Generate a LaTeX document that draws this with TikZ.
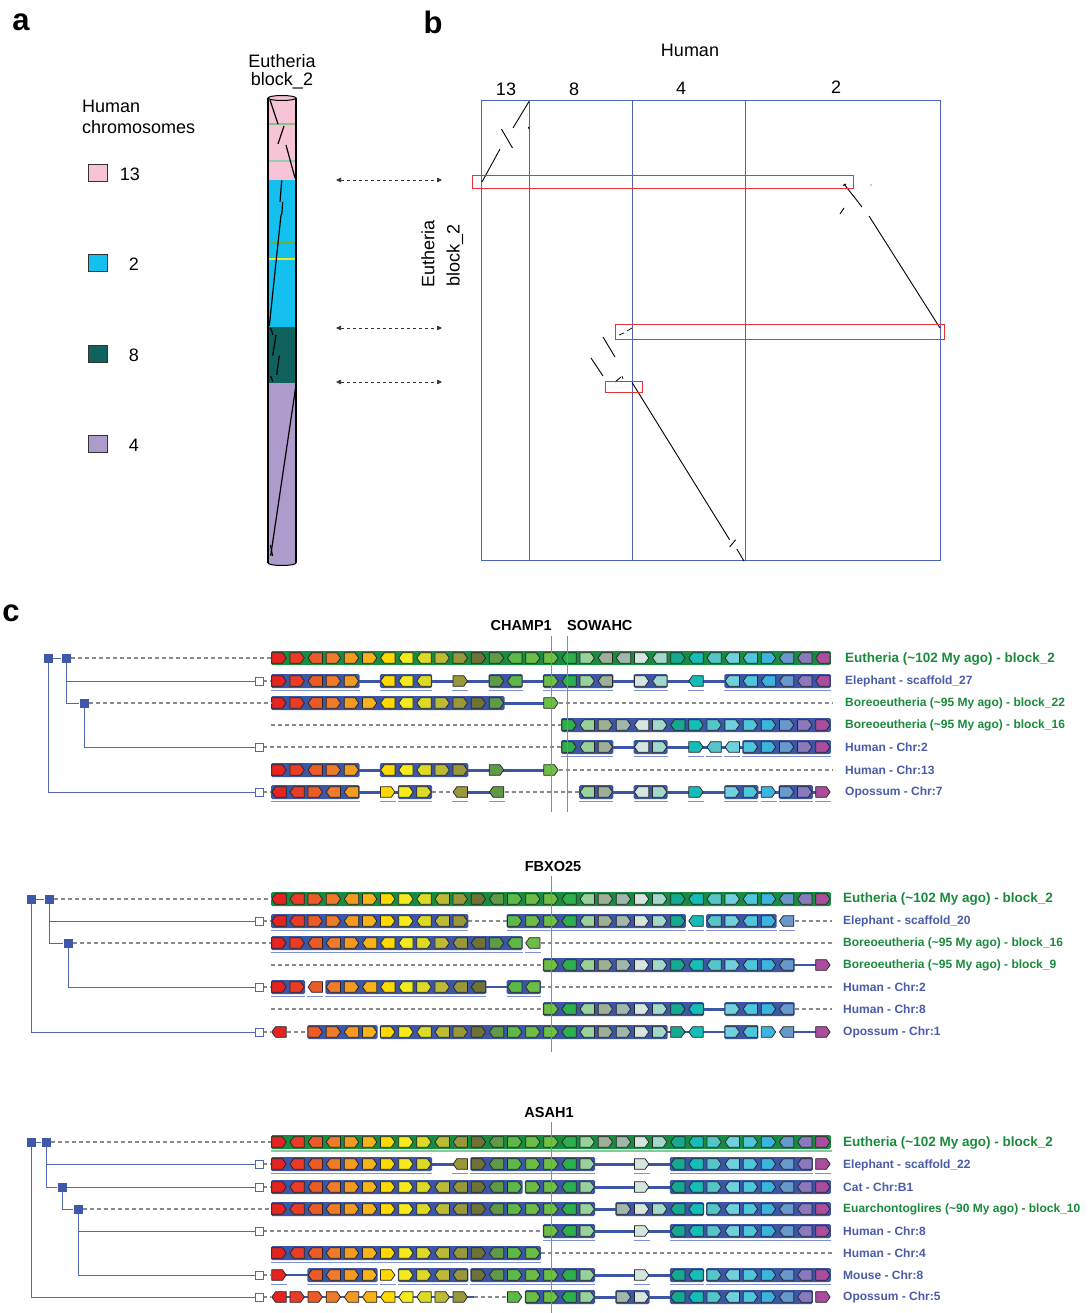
\documentclass[tikz,border=0pt]{standalone}
\usepackage{fontspec}
\setmainfont{Liberation Sans}
\usetikzlibrary{arrows.meta}
\pgfdeclarelayer{bottomlayer}
\pgfdeclarelayer{linelayer}
\pgfdeclarelayer{blocklayer}
\pgfsetlayers{bottomlayer,linelayer,blocklayer,main}

\definecolor{gc0}{HTML}{E52421}
\definecolor{gc1}{HTML}{E83C27}
\definecolor{gc2}{HTML}{EA5B27}
\definecolor{gc3}{HTML}{EE7A2C}
\definecolor{gc4}{HTML}{F39A21}
\definecolor{gc5}{HTML}{F8B31B}
\definecolor{gc6}{HTML}{FDD900}
\definecolor{gc7}{HTML}{F5EA1E}
\definecolor{gc8}{HTML}{DDDA26}
\definecolor{gc9}{HTML}{BDBB36}
\definecolor{gc10}{HTML}{98983A}
\definecolor{gc11}{HTML}{6F7237}
\definecolor{gc12}{HTML}{5F9A46}
\definecolor{gc13}{HTML}{5DB947}
\definecolor{gc14}{HTML}{6BBD45}
\definecolor{gc15}{HTML}{6DBF45}
\definecolor{gc16}{HTML}{2EAF4D}
\definecolor{gc17}{HTML}{98D19C}
\definecolor{gc18}{HTML}{9DAF97}
\definecolor{gc19}{HTML}{A0B7AE}
\definecolor{gc20}{HTML}{D5E6E0}
\definecolor{gc21}{HTML}{A2D8CC}
\definecolor{gc22}{HTML}{17A891}
\definecolor{gc23}{HTML}{14BDB8}
\definecolor{gc24}{HTML}{55C5CA}
\definecolor{gc25}{HTML}{70D0DE}
\definecolor{gc26}{HTML}{4EC7DD}
\definecolor{gc27}{HTML}{3BB5E0}
\definecolor{gc28}{HTML}{6899CD}
\definecolor{gc29}{HTML}{8B79BD}
\definecolor{gc30}{HTML}{AB4D9E}
\definecolor{bgblue}{HTML}{3C55A5}
\definecolor{bggreen}{HTML}{178C40}
\definecolor{ulblue}{HTML}{7D90D2}
\definecolor{ulgreen}{HTML}{86C8A0}
\definecolor{treeblue}{HTML}{3F58A8}
\definecolor{tlineblue}{HTML}{5068B4}
\definecolor{labgreen}{HTML}{1A8B3C}
\definecolor{labblue}{HTML}{4A5CAA}
\definecolor{plotblue}{HTML}{4D64B6}
\definecolor{plotred}{HTML}{E8323A}
\definecolor{pinkc}{HTML}{F6C4D4}
\definecolor{cyanc}{HTML}{14C0EF}
\definecolor{tealc}{HTML}{10625F}
\definecolor{purplec}{HTML}{AD9BCB}
\definecolor{dashgray}{HTML}{8A8A8A}
\definecolor{bandA}{HTML}{8DBE8E}
\definecolor{bandB}{HTML}{8FCFB0}
\definecolor{bandC}{HTML}{6DAF3A}
\definecolor{bandD}{HTML}{F2EA1E}

\newcount\mygcol \newcount\myblen \newcount\mybstart
\def\mytypeb{b}\def\mytypeg{g}

\def\myendblock{%
  \ifnum\myblen>0
    \pgfmathsetmacro\mybxa{279+18.13*\the\mybstart-8}%
    \pgfmathsetmacro\mybxb{279+18.13*(\the\mybstart+\the\myblen-1)+8}%
    \begin{pgfonlayer}{blocklayer}%
    \ifnum\myblen>1
      \ifx\myrowtype\mytypeg
        \fill[bggreen,rounded corners=1.5pt] (\mybxa,\mygy-7) rectangle (\mybxb,\mygy+7);
      \else
        \fill[bgblue,rounded corners=1.5pt] (\mybxa,\mygy-7) rectangle (\mybxb,\mygy+7);
      \fi
    \fi
    \ifx\myrowtype\mytypeb
      \draw[ulblue,line width=0.8pt] (\mybxa,\mygy+9.3) -- (\mybxb,\mygy+9.3);
    \fi
    \end{pgfonlayer}%
  \fi
  \myblen=0 }

\def\mydrawgene#1{%
  \pgfmathsetmacro\mygxc{279+18.13*\the\mygcol}%
  \edef\mygcname{gc\the\mygcol}%
  \ifx#1>%
    \filldraw[gene,fill=\mygcname] (\mygxc-7.2,\mygy-5.3) -- (\mygxc+3.4,\mygy-5.3) -- (\mygxc+7.2,\mygy) -- (\mygxc+3.4,\mygy+5.3) -- (\mygxc-7.2,\mygy+5.3) -- cycle;
  \else
    \filldraw[gene,fill=\mygcname] (\mygxc+7.2,\mygy-5.3) -- (\mygxc-3.4,\mygy-5.3) -- (\mygxc-7.2,\mygy) -- (\mygxc-3.4,\mygy+5.3) -- (\mygxc+7.2,\mygy+5.3) -- cycle;
  \fi}

\def\myparse#1{%
  \ifx#1\relax\myendblock\else
    \ifx#1.\myendblock\advance\mygcol by 1 \else
      \ifx#1|\myendblock\else
        \ifnum\myblen=0 \mybstart=\mygcol\fi
        \advance\myblen by 1
        \mydrawgene{#1}%
        \advance\mygcol by 1
      \fi
    \fi
    \expandafter\myparse
  \fi}

\newcommand\generow[3]{\def\mygy{#1}\def\myrowtype{#2}\mygcol=0 \myblen=0 \myparse#3\relax}
\newcommand\thk[3]{\begin{pgfonlayer}{linelayer}\draw[thkline] ({#2},#1) -- ({#3},#1);\end{pgfonlayer}}
\newcommand\thn[3]{\begin{pgfonlayer}{linelayer}\draw[thnline] ({#2},#1) -- ({#3},#1);\end{pgfonlayer}}
\newcommand\dsh[3]{\begin{pgfonlayer}{linelayer}\draw[gdash] ({#2},#1) -- ({#3},#1);\end{pgfonlayer}}

\begin{document}
\begin{tikzpicture}[x=1pt,y=-1pt,
  declare function={cx(\x)=279+18.13*\x; colL(\x)=271+18.13*\x; colR(\x)=287+18.13*\x;},
  gene/.style={draw=black!85,line width=0.75pt,line join=round},
  thkline/.style={draw=bgblue,line width=3pt},
  thnline/.style={draw=bgblue,line width=1.1pt},
  gdash/.style={draw=dashgray,line width=1.2pt,dash pattern=on 4pt off 3pt},
  tline/.style={draw=tlineblue,line width=0.9pt},
  tsq/.style={fill=treeblue,minimum size=9pt,inner sep=0pt,draw=none},
  osq/.style={fill=white,draw=tlineblue,line width=0.8pt,minimum size=8pt,inner sep=0pt},
  lab/.style={anchor=west,inner sep=0pt,font=\fontsize{12}{14}\selectfont\bfseries},
  labE/.style={anchor=west,inner sep=0pt,text=labgreen,font=\fontsize{13.5}{16}\selectfont\bfseries},
  labG/.style={lab,text=labgreen},
  labB/.style={lab,text=labblue},
  big/.style={inner sep=0pt,font=\fontsize{18}{21}\selectfont},
  panel/.style={inner sep=0pt,font=\fontsize{31}{34}\selectfont\bfseries},
  gtitle/.style={inner sep=0pt,font=\fontsize{14.5}{17}\selectfont\bfseries},
  legsq/.style={draw=black!80,line width=0.8pt,minimum width=19pt,minimum height=17pt,inner sep=0pt},
  darrow/.style={draw=black!80,line width=0.7pt,dash pattern=on 3pt off 3pt,{Triangle[length=5pt,width=4.5pt]}-{Triangle[length=5pt,width=4.5pt]}},
  dot/.style={draw=black,line width=0.9pt},
  vline/.style={draw=black!45,line width=0.9pt}
]
\begin{pgfonlayer}{bottomlayer}
\fill[white] (0,0) rectangle (1088,1313);
\end{pgfonlayer}
\useasboundingbox (0,0) rectangle (1088,1313);

% ================= panel a =================
\node[panel] (pa) at (21,22) {a};
\node[big,anchor=west] (hc1) at (82,106) {Human};
\node[big,anchor=west] (hc2) at (82,127) {chromosomes};
\node[legsq,fill=pinkc] (lg13) at (98,173) {};
\node[legsq,fill=cyanc] (lg2) at (98,263) {};
\node[legsq,fill=tealc] (lg8) at (98,354) {};
\node[legsq,fill=purplec] (lg4) at (98,444) {};
\node[big] (lt13) at (130,174) {13};
\node[big] (lt2) at (134,264) {2};
\node[big] (lt8) at (134,355) {8};
\node[big] (lt4) at (134,445) {4};
\node[big] (eb1) at (282,61) {Eutheria};
\node[big] (eb2) at (282,81) {block\_2};
% cylinder
\fill[pinkc] (268,98) rectangle (296,180);
\fill[cyanc] (268,180) rectangle (296,327);
\fill[tealc] (268,327) rectangle (296,383);
\fill[purplec] (268,383) rectangle (296,563);
\fill[purplec] (282,563) ellipse [x radius=14, y radius=2.5];
\draw[bandA,line width=1.4pt] (269,124) -- (295,124);
\draw[bandB,line width=1.4pt] (269,161) -- (295,161);
\draw[bandC,line width=1.4pt] (269,243) -- (295,243);
\draw[bandD,line width=1.4pt] (269,259) -- (295,259);
\begin{scope}[line width=1.2pt]
\draw (270,100) -- (278,124);
\draw (284,126) -- (278,144);
\draw (286,145) -- (295,178);
\draw (281.7,180.4) -- (280,202);
\draw (282.7,202) -- (281.7,214.8);
\draw (281,214.8) -- (269.3,326);
\draw (270.7,328) -- (273,335);
\draw (276,335) -- (272.7,355.6);
\draw (279.3,355.6) -- (276.7,374.8);
\draw (270.7,376) -- (272.7,381.5);
\draw (296,385) -- (270.7,555.6);
\draw (270.5,545) -- (272.5,556);
\end{scope}
\draw[black,line width=1.2pt] (268,98) -- (268,563);
\draw[black,line width=1.2pt] (296,98) -- (296,563);
\draw[black,line width=1.0pt,fill=pinkc] (282,98) ellipse [x radius=14, y radius=2.5];
\draw[black,line width=1.0pt] (268,563) arc [start angle=180, end angle=0, x radius=14, y radius=2.5];
% dashed double arrows
\coordinate (arL1) at (336,180); \coordinate (arR1) at (442,180);
\coordinate (arL2) at (336,328); \coordinate (arR2) at (442,328);
\coordinate (arL3) at (336,382); \coordinate (arR3) at (442,382);
\draw[darrow] (arL1) -- (arR1);
\draw[darrow] (arL2) -- (arR2);
\draw[darrow] (arL3) -- (arR3);

% ================= panel b =================
\node[panel] (pb) at (433,22) {b};
\node[big] (hum) at (690,50) {Human};
\node[big] (n13) at (506,89) {13};
\node[big] (n8) at (574,89) {8};
\node[big] (n4) at (681,88) {4};
\node[big] (n2) at (836,87) {2};
\node[big,rotate=90] (ebr1) at (428,254) {Eutheria};
\node[big,rotate=90] (ebr2) at (455,255) {block\_2};
\draw[plotblue,line width=1pt] (481,101) rectangle (940,560);
\draw[plotblue,line width=1pt] (529,101) -- (529,560);
\draw[plotblue,line width=1pt] (632,101) -- (632,560);
\draw[plotblue,line width=1pt] (745,101) -- (745,560);
\begin{scope}[dot]
\draw (482,182) -- (500,149);
\draw (501.4,129) -- (512.5,148);
\draw (513,128) -- (529,101.5);
\draw (528.5,127) -- (529,129);
\draw (844,184) -- (862,207);
\draw (869,216) -- (940,328);
\draw (844,208) -- (840,214);
\draw (843,185.5) -- (846,184);
\draw (603,337) -- (615,357);
\draw (591,358) -- (603,376);
\draw[line width=0.7pt] (619,335) -- (624,333);
\draw[line width=0.7pt] (627,331) -- (632,328);
\draw (615,382) -- (621,377);
\draw[line width=0.7pt] (622,376) -- (623,379);
\draw (632,382.4) -- (729.6,539.7);
\draw (729.6,547) -- (735.7,539.7);
\draw (736.8,549) -- (744,561);
\end{scope}
\fill[black!40] (871,185) circle (0.8);
\draw[plotred,line width=1pt] (472.5,175.5) rectangle (853,188.6);
\draw[plotred,line width=1pt] (615,324) rectangle (944.6,339.7);
\draw[plotred,line width=1pt] (605,381) rectangle (642.5,392.8);

% ================= panel c =================
\node[panel] (pc) at (11,613) {c};

% ---------- section 1 ----------
\node[gtitle,anchor=east] (champ) at (552,626) {CHAMP1};
\node[gtitle,anchor=west] (sowa) at (567,626) {SOWAHC};
\generow{658}{g}{>><>>><<<>>>><>><><<><><<<<><<<}
\generow{681}{b}{>><>>.<<<.>.><.><><.><.<.<<<<<<}
\thk{681}{cx(0)}{cx(30)}
\dsh{681}{263}{271}
\generow{703}{n}{>><>>><<<>>>>..>...............}
\thk{703}{cx(12)}{cx(15)}
\dsh{703}{colR(15)}{832}
\generow{725}{n}{................><>><><>>>>>>>>}
\dsh{725}{271}{colL(16)}
\generow{747}{b}{................><>.<>.>|<|<|>>>>>}
\thk{747}{cx(16)}{cx(30)}
\dsh{747}{263}{colL(16)}
\generow{770}{n}{>><>>.<<<>>.>..>...............}
\thk{770}{cx(0)}{cx(15)}
\dsh{770}{colR(15)}{832}
\generow{792}{b}{<<><<.>|>>.<.<....<>.<>.>.>>|>|>>|>}
\dsh{792}{263}{271}
\thk{792}{cx(4)}{cx(7)}
\dsh{792}{colR(8)}{colL(10)}
\thk{792}{cx(10)}{cx(12)}
\dsh{792}{colR(12)}{colL(17)}
\thk{792}{cx(17)}{cx(30)}
\node[tsq] (t1r) at (48,658) {};
\node[tsq] (t1a) at (66,658) {};
\node[tsq] (t1b) at (84,703) {};
\node[osq] (t1o2) at (259,681) {};
\node[osq] (t1o5) at (259,747) {};
\node[osq] (t1o7) at (259,792) {};
\coordinate (r1s1) at (271,658);
\coordinate (r1s3) at (271,703);
\draw[tline] (t1r) -- (t1a);
\draw[tline] (t1a) |- (t1o2);
\draw[tline] (t1a) |- (t1b);
\draw[tline] (t1b) |- (t1o5);
\draw[tline] (t1r) |- (t1o7);
\draw[gdash] (t1a) -- (r1s1);
\draw[gdash] (t1b) -- (r1s3);
\draw[vline] (551,636) -- (551,812);
\draw[vline] (567.5,636) -- (567.5,812);
\node[labE] (l11) at (845,659) {Eutheria (\textasciitilde102 My ago) - block\_2};
\node[labB] (l12) at (845,681) {Elephant - scaffold\_27};
\node[labG] (l13) at (845,703) {Boreoeutheria (\textasciitilde95 My ago) - block\_22};
\node[labG] (l14) at (845,725) {Boreoeutheria (\textasciitilde95 My ago) - block\_16};
\node[labB] (l15) at (845,747) {Human - Chr:2};
\node[labB] (l16) at (845,770) {Human - Chr:13};
\node[labB] (l17) at (845,792) {Opossum - Chr:7};

% ---------- section 2 ----------
\node[gtitle] (fbx) at (553,866) {FBXO25};
\generow{899}{g}{<<>><>>><<>><>>><<>>>>><<><><<>}
\generow{921}{b}{<<>><>>><<>..>>><<>>>>>|<|<><>|<..}
\dsh{921}{263}{271}
\dsh{921}{colR(10)}{colL(13)}
\dsh{921}{colR(28)}{832}
\generow{943}{b}{>><<><<<>><<><|<................}
\dsh{943}{colR(14)}{832}
\generow{965}{n}{...............><<>>>>><<><><.>}
\dsh{965}{271}{colL(15)}
\thn{965}{cx(28)}{cx(30)}
\generow{987}{b}{>>|<|<><<<>><<.<<................}
\dsh{987}{263}{271}
\thn{987}{cx(11)}{cx(13)}
\dsh{987}{colR(14)}{832}
\generow{1009}{n}{...............><<>>>>><.><><..}
\dsh{1009}{271}{colL(15)}
\thk{1009}{cx(23)}{cx(25)}
\dsh{1009}{colR(28)}{832}
\generow{1032}{n}{<.>><>|>><<>><>>><<>>>>|>|<.><|>|<.>}
\dsh{1032}{263}{271}
\dsh{1032}{colR(0)}{colL(2)}
\thn{1032}{cx(21)}{cx(25)}
\thn{1032}{cx(28)}{cx(30)}
\node[tsq] (t2r) at (31,899) {};
\node[tsq] (t2a) at (49,899) {};
\node[tsq] (t2b) at (68,943) {};
\node[osq] (t2o2) at (259,921) {};
\node[osq] (t2o5) at (259,987) {};
\node[osq] (t2o7) at (259,1032) {};
\coordinate (r2s1) at (271,899);
\coordinate (r2s3) at (271,943);
\draw[tline] (t2r) -- (t2a);
\draw[tline] (t2a) |- (t2o2);
\draw[tline] (t2a) |- (t2b);
\draw[tline] (t2b) |- (t2o5);
\draw[tline] (t2r) |- (t2o7);
\draw[gdash] (t2a) -- (r2s1);
\draw[gdash] (t2b) -- (r2s3);
\draw[vline] (551,876) -- (551,1052);
\node[labE] (l21) at (843,899) {Eutheria (\textasciitilde102 My ago) - block\_2};
\node[labB] (l22) at (843,921) {Elephant - scaffold\_20};
\node[labG] (l23) at (843,943) {Boreoeutheria (\textasciitilde95 My ago) - block\_16};
\node[labG] (l24) at (843,965) {Boreoeutheria (\textasciitilde95 My ago) - block\_9};
\node[labB] (l25) at (843,987) {Human - Chr:2};
\node[labB] (l26) at (843,1009) {Human - Chr:8};
\node[labB] (l27) at (843,1032) {Opossum - Chr:1};

% ---------- section 3 ----------
\node[gtitle] (asah) at (549,1112) {ASAH1};
\generow{1142}{g}{><<<>>>>><<><>>><>>>>><<><>><<>}
\draw[ulgreen,line width=1.2pt] (271,1151) -- (832,1151);
\generow{1164}{b}{><<<>>>>>.<|><>>><>..>.<<><>><<|>}
\dsh{1164}{263}{271}
\thk{1164}{cx(8)}{cx(10)}
\thk{1164}{cx(17)}{cx(22)}
\generow{1187}{n}{><<<>>>>><<><>|>><>..>.<<><>><<>}
\dsh{1187}{263}{271}
\thk{1187}{cx(17)}{cx(22)}
\generow{1209}{n}{><<<>>>>><<><>>><>.>>><<|><>><<>}
\thk{1209}{cx(17)}{cx(19)}
\generow{1231}{b}{...............><>..>.<<><>><<>}
\dsh{1231}{263}{colL(15)}
\thk{1231}{cx(17)}{cx(22)}
\generow{1253}{b}{><<<>>>>><<><>>................}
\dsh{1253}{colR(14)}{832}
\generow{1275}{b}{>.<<>>|>|>><<|><>>><>..>.<<|><>><<>}
\dsh{1275}{263}{271}
\thn{1275}{cx(0)}{cx(2)}
\thk{1275}{cx(17)}{cx(22)}
\generow{1297}{n}{<|>|>|>|<|<|<|<|<|>|>..>|>><>.>>.<<><>><<|>}
\dsh{1297}{263}{271}
\thn{1297}{cx(0)}{cx(10)+14}
\dsh{1297}{cx(10)+14}{colL(13)}
\thk{1297}{cx(17)}{cx(19)}
\thk{1297}{cx(20)}{cx(22)}
\node[tsq] (t3r) at (31,1142) {};
\node[tsq] (t3a) at (46,1142) {};
\node[tsq] (t3b) at (62,1187) {};
\node[tsq] (t3c) at (78,1209) {};
\node[osq] (t3o2) at (259,1164) {};
\node[osq] (t3o3) at (259,1187) {};
\node[osq] (t3o5) at (259,1231) {};
\node[osq] (t3o7) at (259,1275) {};
\node[osq] (t3o8) at (259,1297) {};
\coordinate (r3s1) at (271,1142);
\coordinate (r3s4) at (271,1209);
\draw[tline] (t3r) -- (t3a);
\draw[tline] (t3a) |- (t3o2);
\draw[tline] (t3a) |- (t3b);
\draw[tline] (t3b) -- (t3o3);
\draw[tline] (t3b) |- (t3c);
\draw[tline] (t3c) |- (t3o5);
\draw[tline] (t3c) |- (t3o7);
\draw[tline] (t3r) |- (t3o8);
\draw[gdash] (t3a) -- (r3s1);
\draw[gdash] (t3c) -- (r3s4);
\draw[vline] (551,1122) -- (551,1313);
\node[labE] (l31) at (843,1143) {Eutheria (\textasciitilde102 My ago) - block\_2};
\node[labB] (l32) at (843,1165) {Elephant - scaffold\_22};
\node[labB] (l33) at (843,1187) {Cat - Chr:B1};
\node[labG] (l34) at (843,1209) {Euarchontoglires (\textasciitilde90 My ago) - block\_10};
\node[labB] (l35) at (843,1231) {Human - Chr:8};
\node[labB] (l36) at (843,1253) {Human - Chr:4};
\node[labB] (l37) at (843,1275) {Mouse - Chr:8};
\node[labB] (l38) at (843,1297) {Opossum - Chr:5};
\end{tikzpicture}
\end{document}
